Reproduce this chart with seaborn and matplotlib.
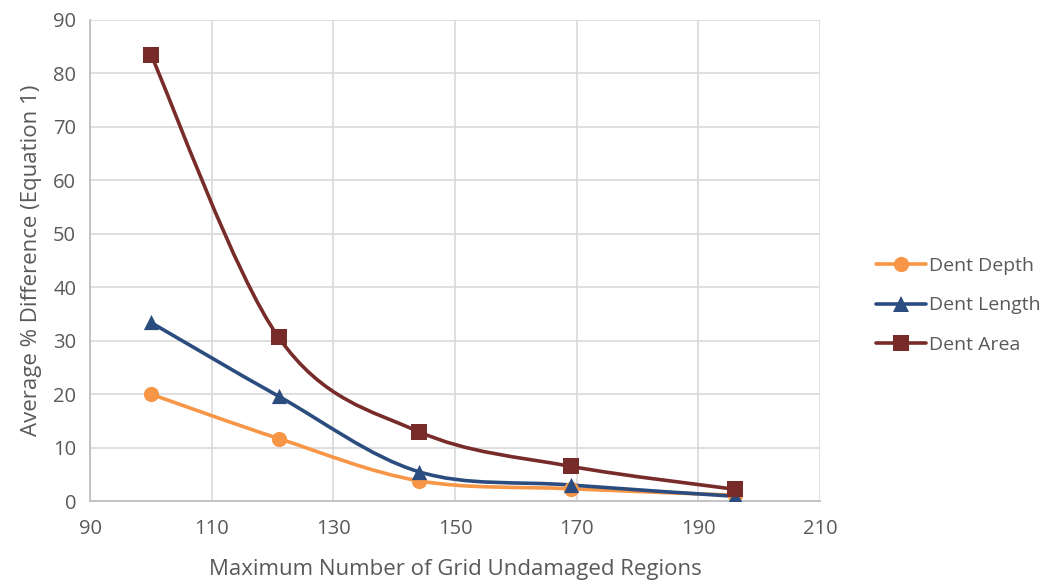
import numpy as np
import matplotlib
matplotlib.use('Agg')
import matplotlib.pyplot as plt
from matplotlib.path import Path
from matplotlib.patches import PathPatch
from matplotlib.lines import Line2D
import seaborn as sns

# data
grid_regions = [100, 121, 144, 169, 196]
dent_depth = [20.0, 11.7, 3.8, 2.3, 1.1]
dent_length = [33.4, 19.6, 5.5, 3.0, 0.9]
dent_area = [83.5, 30.6, 13.0, 6.5, 2.2]
series_names = ['Dent Depth', 'Dent Length', 'Dent Area']
colors = ['#F79646', '#2B4C7E', '#772C2A']
markers = ['o', '^', 's']

sns.set_theme(style='white')
plt.rcParams['font.family'] = ['Open Sans', 'DejaVu Sans']
text_col = '#595959'


def smooth_path(x, y):
    # Excel-like smoothed line: cubic bezier through the points
    pts = np.column_stack([x, y]).astype(float)
    n = len(pts)
    verts = [pts[0]]
    codes = [Path.MOVETO]
    for i in range(n - 1):
        p0 = pts[i - 1] if i > 0 else pts[i]
        p1 = pts[i]
        p2 = pts[i + 1]
        p3 = pts[i + 2] if i + 2 < n else pts[i + 1]
        c1 = p1 + (p2 - p0) / 6
        c2 = p2 - (p3 - p1) / 6
        verts += [c1, c2, p2]
        codes += [Path.CURVE4] * 3
    return Path(verts, codes)


fig = plt.figure(figsize=(10.52, 5.84), dpi=100)
ax = fig.add_axes([0.0856, 0.142, 0.694, 0.824])

for name, vals, c, m in zip(series_names, [dent_depth, dent_length, dent_area], colors, markers):
    ax.add_patch(PathPatch(smooth_path(grid_regions, vals), facecolor='none',
                           edgecolor=c, lw=2.6, zorder=3, capstyle='round'))
    sns.scatterplot(x=grid_regions, y=vals, marker=m, color=c, s=120,
                    edgecolor=c, linewidth=0, zorder=4, ax=ax, legend=False)

ax.set_xlim(90, 210)
ax.set_ylim(0, 90)
ax.set_xticks(range(90, 211, 20))
ax.set_yticks(range(0, 91, 10))
ax.grid(True, color='#D9D9D9', lw=1.2)
ax.set_axisbelow(True)
for s in ['top', 'right']:
    ax.spines[s].set_visible(False)
for s in ['left', 'bottom']:
    ax.spines[s].set_color('#BFBFBF')
    ax.spines[s].set_linewidth(1.3)
ax.tick_params(axis='both', length=0, labelsize=14.5, colors=text_col)
ax.tick_params(axis='x', pad=13)
ax.tick_params(axis='y', pad=10)
ax.set_xlabel('Maximum Number of Grid Undamaged Regions', fontsize=16, color=text_col, labelpad=14)
ax.set_ylabel('Average % Difference (Equation 1)', fontsize=16, color=text_col, labelpad=8)

handles = [Line2D([0], [0], color=c, lw=2.6, marker=m, markersize=11, markeredgewidth=0)
           for c, m in zip(colors, markers)]
leg = fig.legend(handles, series_names, loc='center left', bbox_to_anchor=(0.816, 0.477),
                 frameon=False, fontsize=14, labelspacing=1.12, handlelength=2.55, handletextpad=0.2)
for t in leg.get_texts():
    t.set_color(text_col)

fig.savefig('out.png', dpi=100)
